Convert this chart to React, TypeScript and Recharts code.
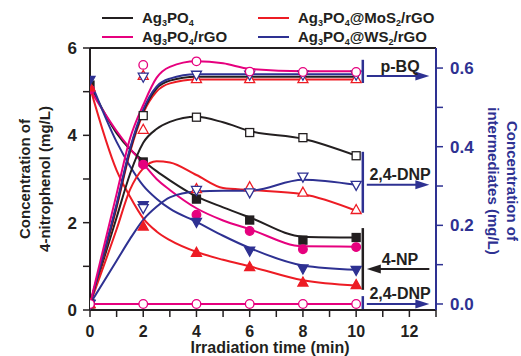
import React from 'react'
import { LineChart, Line, XAxis, YAxis, ReferenceLine, ReferenceDot } from 'recharts'

const COLORS = {
  black: '#231f20',
  pink: '#e6007e',
  red: '#ed1c24',
  blue: '#2e3192',
}
const FONT = '"Liberation Sans", Arial, sans-serif'

// irradiation times (min)
const markerTimes = [0, 2, 4, 6, 8, 10]
const fitTimes = [0, 1, 1.5, 2, 2.5, 3, 4, 5, 6, 8, 10]

// 4-nitrophenol, mg/L (left axis), measured
const npAg3PO4 = [5.15, 3.39, 2.54, 2.06, 1.6, 1.66]
const npRGO = [5.05, 3.33, 2.18, 1.81, 1.39, 1.44]
const npMoS2 = [5.1, 1.91, 1.31, 0.98, 0.63, 0.57]
const npWS2 = [5.27, 2.4, 2.02, 1.36, 0.95, 0.92]

// 4-nitrophenol fitted curves
const npFitAg3PO4 = [5.15, 4.05, 3.68, 3.42, 3.18, 2.97, 2.6, 2.35, 2.12, 1.68, 1.66]
const npFitRGO = [5.05, 4.1, 3.7, 3.35, 3.0, 2.75, 2.33, 2.05, 1.85, 1.46, 1.45]
const npFitMoS2 = [5.1, 3.2, 2.6, 2.1, 1.8, 1.6, 1.33, 1.15, 1.0, 0.68, 0.56]
const npFitWS2 = [5.27, 3.85, 3.3, 2.85, 2.55, 2.32, 2.02, 1.7, 1.42, 1.02, 0.92]

// p-BQ, mg/L (right axis), measured
const bqRGO = [0, 0.608, 0.617, 0.591, 0.59, 0.59]
const bqMoS2 = [0, 0.58, 0.572, 0.572, 0.572, 0.572]
const bqWS2 = [0, 0.578, 0.583, 0.583, 0.583, 0.583]

// p-BQ fitted curves
const bqFitAg3PO4 = [0, 0.25, 0.39, 0.49, 0.548, 0.568, 0.578, 0.578, 0.578, 0.578, 0.578]
const bqFitRGO = [0, 0.28, 0.42, 0.506, 0.575, 0.603, 0.617, 0.612, 0.598, 0.592, 0.592]
const bqFitMoS2 = [0, 0.245, 0.385, 0.485, 0.54, 0.561, 0.571, 0.571, 0.571, 0.571, 0.571]
const bqFitWS2 = [0, 0.255, 0.395, 0.495, 0.553, 0.573, 0.584, 0.584, 0.584, 0.584, 0.584]

// 2,4-DNP, mg/L (right axis), measured
const dnpAg3PO4 = [0, 0.479, 0.475, 0.436, 0.423, 0.377]
const dnpRGO = [0, 0, 0, 0, 0, 0]
const dnpMoS2 = [0, 0.443, 0.292, 0.297, 0.283, 0.239]
const dnpWS2 = [0, 0.244, 0.29, 0.284, 0.324, 0.303]

// 2,4-DNP fitted curves
const dnpFitAg3PO4 = [0, 0.22, 0.33, 0.41, 0.445, 0.463, 0.476, 0.462, 0.44, 0.42, 0.377]
const dnpFitMoS2 = [0, 0.19, 0.29, 0.345, 0.363, 0.36, 0.328, 0.295, 0.29, 0.279, 0.237]
const dnpFitWS2 = [0, 0.11, 0.165, 0.214, 0.247, 0.271, 0.286, 0.288, 0.288, 0.316, 0.303]

// axis ticks
const xTicks = [0, 1, 2, 3, 4, 5, 6, 7, 8, 9, 10, 11, 12, 13]
const leftTicks = [0, 1, 2, 3, 4, 5, 6]
const rightTicks = [0, 0.1, 0.2, 0.3, 0.4, 0.5, 0.6]

const legendNames = ['Ag3PO4', 'Ag3PO4/rGO', 'Ag3PO4@MoS2/rGO', 'Ag3PO4@WS2/rGO']

const fit = (ys: number[]) => fitTimes.map((t, i) => ({ t, v: ys[i] }))
const meas = (ys: number[]) => markerTimes.map((t, i) => ({ t, v: ys[i] }))

type Shape = 'square' | 'circle' | 'up' | 'down'

const curves = [
  { id: 'np-ag', axis: 'left', color: COLORS.black, data: fit(npFitAg3PO4) },
  { id: 'np-rgo', axis: 'left', color: COLORS.pink, data: fit(npFitRGO) },
  { id: 'np-mos2', axis: 'left', color: COLORS.red, data: fit(npFitMoS2) },
  { id: 'np-ws2', axis: 'left', color: COLORS.blue, data: fit(npFitWS2) },
  { id: 'dnp-ag', axis: 'right', color: COLORS.black, data: fit(dnpFitAg3PO4) },
  { id: 'dnp-mos2', axis: 'right', color: COLORS.red, data: fit(dnpFitMoS2) },
  { id: 'dnp-ws2', axis: 'right', color: COLORS.blue, data: fit(dnpFitWS2) },
  { id: 'bq-mos2', axis: 'right', color: COLORS.red, data: fit(bqFitMoS2) },
  { id: 'bq-ag', axis: 'right', color: COLORS.black, data: fit(bqFitAg3PO4) },
  { id: 'bq-ws2', axis: 'right', color: COLORS.blue, data: fit(bqFitWS2) },
  { id: 'bq-rgo', axis: 'right', color: COLORS.pink, data: fit(bqFitRGO) },
  { id: 'dnp-rgo', axis: 'right', color: COLORS.pink, data: meas(dnpRGO) },
]

const markers: { id: string; axis: string; color: string; shape: Shape; filled: boolean; data: { t: number; v: number }[] }[] = [
  { id: 'm-np-ag', axis: 'left', color: COLORS.black, shape: 'square', filled: true, data: meas(npAg3PO4) },
  { id: 'm-np-rgo', axis: 'left', color: COLORS.pink, shape: 'circle', filled: true, data: meas(npRGO) },
  { id: 'm-np-mos2', axis: 'left', color: COLORS.red, shape: 'up', filled: true, data: meas(npMoS2) },
  { id: 'm-np-ws2', axis: 'left', color: COLORS.blue, shape: 'down', filled: true, data: meas(npWS2) },
  { id: 'm-bq-mos2', axis: 'right', color: COLORS.red, shape: 'up', filled: false, data: meas(bqMoS2) },
  { id: 'm-bq-ws2', axis: 'right', color: COLORS.blue, shape: 'down', filled: false, data: meas(bqWS2) },
  { id: 'm-bq-rgo', axis: 'right', color: COLORS.pink, shape: 'circle', filled: false, data: meas(bqRGO) },
  { id: 'm-dnp-ag', axis: 'right', color: COLORS.black, shape: 'square', filled: false, data: meas(dnpAg3PO4) },
  { id: 'm-dnp-mos2', axis: 'right', color: COLORS.red, shape: 'up', filled: false, data: meas(dnpMoS2) },
  { id: 'm-dnp-ws2', axis: 'right', color: COLORS.blue, shape: 'down', filled: false, data: meas(dnpWS2) },
  { id: 'm-dnp-rgo', axis: 'right', color: COLORS.pink, shape: 'circle', filled: false, data: meas(dnpRGO) },
]

// brackets + arrows on the right side (right axis units)
const annotations = [
  { label: 'p-BQ', bar: [0.562, 0.621], arrowY: 0.58, textY: 0.604, dir: 'right', color: COLORS.blue },
  { label: '2,4-DNP', bar: [0.232, 0.387], arrowY: 0.303, textY: 0.33, dir: 'right', color: COLORS.blue },
  { label: '4-NP', bar: [0.036, 0.193], arrowY: 0.089, textY: 0.113, dir: 'left', color: COLORS.black },
  { label: '2,4-DNP', bar: [-0.015, 0.02], arrowY: 0, textY: 0.028, dir: 'right', color: COLORS.blue },
]
const barX = 10.25
const arrowStart = 10.4
const arrowEnd = 12.75
const labelX = 11.65

function Marker({ cx, cy, shape, color, filled }: any) {
  if (cx == null || cy == null) return <g />
  const fill = filled ? color : '#fff'
  const sw = 1.3
  if (shape === 'square')
    return <rect x={cx - 4} y={cy - 4} width={8} height={8} fill={fill} stroke={color} strokeWidth={sw} />
  if (shape === 'circle') return <circle cx={cx} cy={cy} r={4.3} fill={fill} stroke={color} strokeWidth={sw} />
  if (shape === 'up')
    return (
      <polygon
        points={`${cx},${cy - 5.5} ${cx + 5},${cy + 3.5} ${cx - 5},${cy + 3.5}`}
        fill={fill}
        stroke={color}
        strokeWidth={sw}
      />
    )
  return (
    <polygon
      points={`${cx - 5},${cy - 3.5} ${cx + 5},${cy - 3.5} ${cx},${cy + 5.5}`}
      fill={fill}
      stroke={color}
      strokeWidth={sw}
    />
  )
}

const tickText = { fontSize: 17, fontWeight: 'bold' as const, fontFamily: FONT }

const XTick = ({ x, y, payload }: any) => {
  const v = payload.value
  if (v % 2 !== 0 || v > 12) return <g />
  return (
    <text x={x} y={y} dy="0.71em" textAnchor="middle" fill={COLORS.black} {...tickText} fontSize={16}>
      {v}
    </text>
  )
}

const LeftTick = ({ x, y, payload }: any) => {
  const v = payload.value
  if (v % 2 !== 0) return <g />
  return (
    <text x={x} y={y} dy="0.36em" textAnchor="end" fill={COLORS.black} {...tickText}>
      {v}
    </text>
  )
}

const RightTick = ({ x, y, payload }: any) => {
  const v = payload.value
  if (Math.round(v * 10) % 2 !== 0) return <g />
  return (
    <text x={x} y={y} dy="0.36em" textAnchor="start" fill={COLORS.blue} {...tickText}>
      {v.toFixed(1)}
    </text>
  )
}

const titleText = { fontSize: 15, fontWeight: 'bold' as const, fontFamily: FONT }

const XTitle = (props: any) => {
  const vb = props.viewBox || { x: 90, y: 310, width: 346, height: 46 }
  return (
    <text x={vb.x + vb.width / 2 + 7} y={vb.y + 43} textAnchor="middle" fill={COLORS.black} {...titleText} fontSize={16}>
      Irradiation time (min)
    </text>
  )
}

const LeftTitle = (props: any) => {
  const vb = props.viewBox || { x: 0, y: 48, width: 90, height: 262 }
  const cy = vb.y + vb.height / 2
  return (
    <g fill={COLORS.black} {...titleText}>
      <text x={24} y={cy} textAnchor="middle" dominantBaseline="central" transform={`rotate(-90, 24, ${cy})`}>
        Concentration of
      </text>
      <text x={44} y={cy} textAnchor="middle" dominantBaseline="central" transform={`rotate(-90, 44, ${cy})`}>
        4-nitrophenol (mg/L)
      </text>
    </g>
  )
}

const RightTitle = (props: any) => {
  const vb = props.viewBox || { x: 436, y: 48, width: 85, height: 262 }
  const cy = vb.y + vb.height / 2 + 2
  const x1 = vb.x + 76
  const x2 = vb.x + 57
  return (
    <g fill={COLORS.blue} {...titleText}>
      <text x={x1} y={cy} textAnchor="middle" dominantBaseline="central" transform={`rotate(90, ${x1}, ${cy})`}>
        Concentration of
      </text>
      <text x={x2} y={cy} textAnchor="middle" dominantBaseline="central" transform={`rotate(90, ${x2}, ${cy})`}>
        intermediates (mg/L)
      </text>
    </g>
  )
}

function Arrow(props: any) {
  const { x1, y1, x2, y2, stroke } = props
  const dir = x2 > x1 ? 1 : -1
  const hx = x2
  return (
    <g>
      <line x1={x1} y1={y1} x2={x2 - dir * 10} y2={y2} stroke={stroke} strokeWidth={2} />
      <polygon points={`${hx},${y2} ${hx - dir * 14},${y2 - 4.5} ${hx - dir * 14},${y2 + 4.5}`} fill={stroke} />
    </g>
  )
}

function Formula({ text }: { text: string }) {
  const parts = text.split(/(\d+)/).filter(Boolean)
  return (
    <>
      {parts.map((p, i) =>
        /^\d+$/.test(p) ? (
          <tspan key={i} dy={3} fontSize={9}>
            {p}
          </tspan>
        ) : (
          <tspan key={i} dy={i === 0 ? 0 : -3}>
            {p}
          </tspan>
        ),
      )}
    </>
  )
}

function LegendOverlay() {
  const colors = [COLORS.black, COLORS.pink, COLORS.red, COLORS.blue]
  const cols = [102, 258]
  const rows = [18, 37]
  return (
    <svg
      width={521}
      height={48}
      style={{ position: 'absolute', left: 0, top: 0, pointerEvents: 'none' }}
      fontFamily={FONT}
      fontWeight="bold"
      fontSize={15}
    >
      {legendNames.map((name, i) => {
        const x = cols[i < 2 ? 0 : 1]
        const y = rows[i % 2]
        return (
          <g key={name}>
            <line x1={x} y1={y} x2={x + 31} y2={y} stroke={colors[i]} strokeWidth={2} />
            <text x={x + 40} y={y + 5} fill={COLORS.black}>
              <Formula text={name} />
            </text>
          </g>
        )
      })}
    </svg>
  )
}

export default function App() {
  return (
    <div style={{ position: 'absolute', left: 0, top: 0, width: 521, height: 356, background: '#fff' }}>
      <LineChart width={521} height={356} margin={{ top: 48, right: 0, bottom: 0, left: 0 }} style={{ fontFamily: FONT }}>
        <XAxis
          dataKey="t"
          type="number"
          domain={[0, 13]}
          ticks={xTicks}
          interval={0}
          allowDataOverflow
          height={46}
          tickSize={7}
          tickMargin={9}
          axisLine={{ stroke: COLORS.black, strokeWidth: 2 }}
          tickLine={{ stroke: COLORS.black, strokeWidth: 1.5 }}
          tick={<XTick />}
          label={<XTitle />}
        />
        <YAxis
          yAxisId="left"
          domain={[0, 6]}
          ticks={leftTicks}
          interval={0}
          allowDataOverflow
          width={90}
          tickSize={7}
          tickMargin={6}
          axisLine={{ stroke: COLORS.black, strokeWidth: 2 }}
          tickLine={{ stroke: COLORS.black, strokeWidth: 1.5 }}
          tick={<LeftTick />}
          label={<LeftTitle />}
        />
        <YAxis
          yAxisId="right"
          orientation="right"
          domain={[-0.0153, 0.651]}
          ticks={rightTicks}
          interval={0}
          allowDataOverflow
          width={85}
          tickSize={7}
          tickMargin={7}
          axisLine={{ stroke: COLORS.blue, strokeWidth: 2 }}
          tickLine={{ stroke: COLORS.blue, strokeWidth: 1.5 }}
          tick={<RightTick />}
          label={<RightTitle />}
        />
        <ReferenceLine yAxisId="left" y={6} stroke={COLORS.black} strokeWidth={2} ifOverflow="visible" />

        {curves.map((c) => (
          <Line
            key={c.id}
            yAxisId={c.axis}
            data={c.data}
            dataKey="v"
            type="monotone"
            stroke={c.color}
            strokeWidth={2}
            dot={false}
            activeDot={false}
            legendType="none"
            isAnimationActive={false}
          />
        ))}
        {markers.map((m) => (
          <Line
            key={m.id}
            yAxisId={m.axis}
            data={m.data}
            dataKey="v"
            stroke="none"
            strokeWidth={0}
            activeDot={false}
            legendType="none"
            isAnimationActive={false}
            dot={(p: any) => (
              <Marker key={`${m.id}-${p.index}`} cx={p.cx} cy={p.cy} shape={m.shape} color={m.color} filled={m.filled} />
            )}
          />
        ))}

        {annotations.map((a, i) => (
          <ReferenceLine
            key={`bar-${i}`}
            yAxisId="right"
            ifOverflow="visible"
            segment={[
              { x: barX, y: a.bar[0] },
              { x: barX, y: a.bar[1] },
            ]}
            stroke={a.color}
            strokeWidth={2.5}
          />
        ))}
        {annotations.map((a, i) => (
          <ReferenceLine
            key={`arrow-${i}`}
            yAxisId="right"
            ifOverflow="visible"
            segment={
              a.dir === 'right'
                ? [
                    { x: arrowStart, y: a.arrowY },
                    { x: arrowEnd, y: a.arrowY },
                  ]
                : [
                    { x: arrowEnd, y: a.arrowY },
                    { x: arrowStart, y: a.arrowY },
                  ]
            }
            stroke={a.color}
            shape={(p: any) => <Arrow {...p} stroke={a.color} />}
          />
        ))}
        {annotations.map((a, i) => (
          <ReferenceDot
            key={`text-${i}`}
            yAxisId="right"
            x={labelX}
            y={a.textY}
            r={0}
            ifOverflow="visible"
            shape={(p: any) => (
              <text
                x={p.cx}
                y={p.cy}
                dy="0.36em"
                textAnchor="middle"
                fill={COLORS.black}
                fontFamily={FONT}
                fontWeight="bold"
                fontSize={16}
              >
                {a.label}
              </text>
            )}
          />
        ))}
      </LineChart>
      <LegendOverlay />
    </div>
  )
}
